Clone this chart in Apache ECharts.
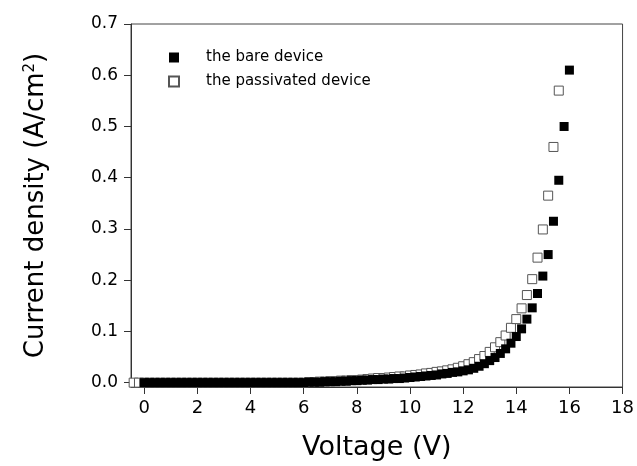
<!DOCTYPE html>
<html>
<head>
<meta charset="utf-8">
<script src="https://cdn.jsdelivr.net/npm/echarts@6/dist/echarts.min.js"></script>
<style>
  html, body { margin: 0; padding: 0; background: #fff; }
  #chart { width: 637px; height: 466px; }
</style>
</head>
<body>
<div id="chart"></div>
<script>
// tick labels
var xTicks = [0, 2, 4, 6, 8, 10, 12, 14, 16, 18];
var yTicks = [0, 0.1, 0.2, 0.3, 0.4, 0.5, 0.6, 0.7];

// the bare device
var voltBare = [0, 0.2, 0.4, 0.6, 0.8, 1, 1.2, 1.4, 1.6, 1.8, 2, 2.2, 2.4, 2.6, 2.8, 3, 3.2, 3.4, 3.6, 3.8,
    4, 4.2, 4.4, 4.6, 4.8, 5, 5.2, 5.4, 5.6, 5.8, 6, 6.2, 6.4, 6.6, 6.8, 7, 7.2, 7.4, 7.6, 7.8,
    8, 8.2, 8.4, 8.6, 8.8, 9, 9.2, 9.4, 9.6, 9.8, 10, 10.2, 10.4, 10.6, 10.8, 11, 11.2, 11.4, 11.6, 11.8,
    12, 12.2, 12.4, 12.6, 12.8, 13, 13.2, 13.4, 13.6, 13.8, 14, 14.2, 14.4, 14.6, 14.8, 15, 15.2, 15.4, 15.6, 15.8, 16];
var curBare = [0, 0, 0, 0, 0, 0, 0, 0, 0, 0, 0, 0, 0, 0, 0, 0, 0, 0, 0, 0,
    0, 0, 0, 0, 0, 0, 0, 0, 0, 0, 0, 0.001, 0.001, 0.001, 0.002, 0.002, 0.002, 0.003, 0.003, 0.004,
    0.004, 0.005, 0.005, 0.006, 0.006, 0.007, 0.007, 0.008, 0.008, 0.009, 0.010, 0.011, 0.012, 0.013, 0.014, 0.015, 0.017, 0.018, 0.020, 0.021,
    0.023, 0.025, 0.028, 0.032, 0.037, 0.043, 0.049, 0.057, 0.066, 0.077, 0.090, 0.105, 0.124, 0.146, 0.174, 0.208, 0.250, 0.315, 0.395, 0.500, 0.610];

// the passivated device
var voltPass = [-0.4, -0.2, 0, 0.2, 0.4, 0.6, 0.8, 1, 1.2, 1.4, 1.6, 1.8, 2, 2.2, 2.4, 2.6, 2.8, 3, 3.2, 3.4, 3.6, 3.8,
    4, 4.2, 4.4, 4.6, 4.8, 5, 5.2, 5.4, 5.6, 5.8, 6, 6.2, 6.4, 6.6, 6.8, 7, 7.2, 7.4, 7.6, 7.8,
    8, 8.2, 8.4, 8.6, 8.8, 9, 9.2, 9.4, 9.6, 9.8, 10, 10.2, 10.4, 10.6, 10.8, 11, 11.2, 11.4, 11.6, 11.8,
    12, 12.2, 12.4, 12.6, 12.8, 13, 13.2, 13.4, 13.6, 13.8, 14, 14.2, 14.4, 14.6, 14.8, 15, 15.2, 15.4, 15.6];
var curPass = [0, 0, 0, 0, 0, 0, 0, 0, 0, 0, 0, 0, 0, 0, 0, 0, 0, 0, 0, 0, 0, 0,
    0, 0, 0, 0, 0, 0, 0, 0, 0, 0, 0, 0.001, 0.001, 0.002, 0.002, 0.003, 0.003, 0.004, 0.004, 0.005,
    0.005, 0.006, 0.007, 0.008, 0.009, 0.009, 0.010, 0.011, 0.012, 0.012, 0.014, 0.015, 0.016, 0.018, 0.019, 0.021, 0.022, 0.024, 0.026, 0.029,
    0.032, 0.036, 0.040, 0.046, 0.052, 0.060, 0.069, 0.079, 0.092, 0.107, 0.124, 0.145, 0.171, 0.202, 0.244, 0.299, 0.365, 0.460, 0.570];

function pairs(xs, ys) {
    var out = [];
    for (var i = 0; i < xs.length; i++) out.push([xs[i], ys[i]]);
    return out;
}

var myChart = echarts.init(document.getElementById('chart'));

var font = 'DejaVu Sans';

var option = {
    animation: false,
    textStyle: { fontFamily: font, color: '#000' },
    grid: {
        left: 131, right: 13, top: 24, bottom: 79,
        show: true, borderColor: '#444', borderWidth: 1
    },
    legend: {
        orient: 'vertical',
        left: 163, top: 45,
        itemWidth: 10, itemHeight: 10, itemGap: 9,
        data: ['the bare device', 'the passivated device'],
        textStyle: { fontFamily: font, fontSize: 15, color: '#000', padding: [0, 0, 0, 22] }
    },
    xAxis: {
        type: 'value',
        min: -0.5, max: 18,
        name: 'Voltage (V)',
        nameLocation: 'middle',
        nameGap: 47,
        nameTextStyle: { fontFamily: font, fontSize: 27, color: '#000' },
        axisLine: { onZero: false, lineStyle: { color: '#333', width: 1 } },
        axisTick: { inside: false, length: 7, customValues: xTicks, lineStyle: { color: '#333' } },
        axisLabel: { customValues: xTicks, margin: 12, fontSize: 18, color: '#000', fontFamily: font },
        splitLine: { show: false }
    },
    yAxis: {
        type: 'value',
        min: -0.0085, max: 0.7,
        name: 'Current density (A/cm{sup|2})',
        nameLocation: 'middle',
        nameGap: 82,
        nameTextStyle: {
            fontFamily: font, fontSize: 26, color: '#000',
            rich: { sup: { fontFamily: font, fontSize: 15, verticalAlign: 'top', color: '#000' } }
        },
        axisLine: { onZero: false, lineStyle: { color: '#333', width: 1 } },
        axisTick: { inside: false, length: 7, customValues: yTicks, lineStyle: { color: '#333' } },
        axisLabel: {
            customValues: yTicks, margin: 13, fontSize: 17, color: '#000', fontFamily: font,
            formatter: function (v) { return v.toFixed(1); }
        },
        splitLine: { show: false }
    },
    series: [
        {
            name: 'the bare device',
            type: 'scatter',
            symbol: 'rect',
            symbolSize: 9,
            z: 3,
            itemStyle: { color: '#000', opacity: 1 },
            data: pairs(voltBare, curBare)
        },
        {
            name: 'the passivated device',
            type: 'scatter',
            symbol: 'rect',
            symbolSize: 9,
            z: 2,
            itemStyle: { color: '#fff', borderColor: '#555', borderWidth: 1, opacity: 1 },
            data: pairs(voltPass, curPass)
        }
    ]
};

myChart.setOption(option);
</script>
</body>
</html>
